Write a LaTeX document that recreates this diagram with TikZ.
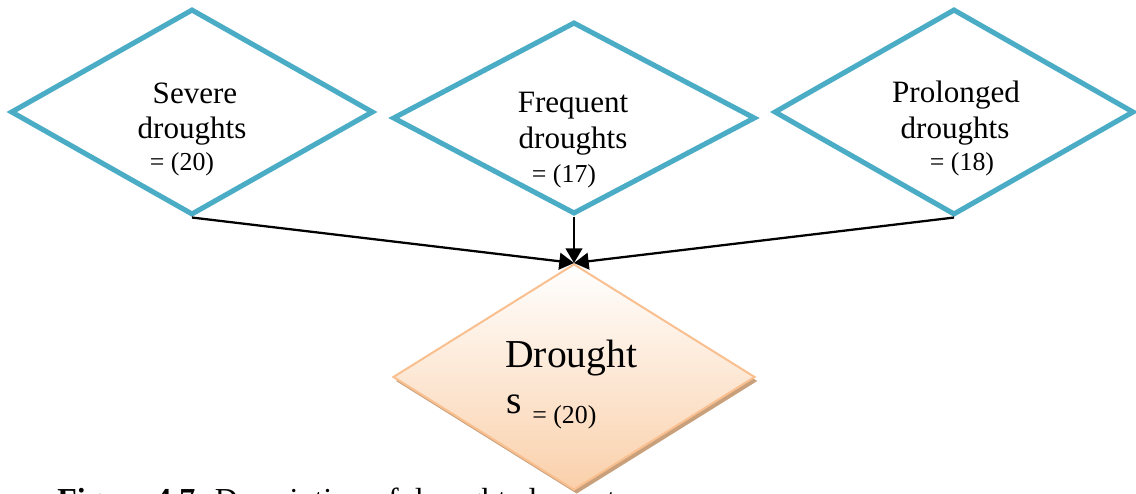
\documentclass[tikz,border=0pt]{standalone}
\usepackage{fontspec}
\setmainfont{Liberation Serif}
\usetikzlibrary{shapes.geometric,arrows.meta,shadows}

\definecolor{causeblue}{HTML}{4BACC6}
\definecolor{effectline}{HTML}{F9BF8F}
\definecolor{effectfill}{HTML}{FAD0AA}
\definecolor{effectshadow}{HTML}{C9A07C}

\begin{document}
\begin{tikzpicture}[x=0.75pt,y=-0.75pt,
  cause/.style={shape=diamond, draw=causeblue, line width=3.8pt, fill=white, inner sep=0pt},
  effect/.style={shape=diamond, draw=effectline, line width=1.5pt, inner sep=0pt,
    top color=white, bottom color=effectfill,
    general shadow={fill=effectshadow, shadow xshift=2pt, shadow yshift=-3pt}},
  lbl/.style={font=\fontsize{23.3}{28}\selectfont, inner sep=0pt, anchor=base},
  countlbl/.style={font=\fontsize{19.4}{23}\selectfont, inner sep=0pt, anchor=base},
  biglbl/.style={font=\fontsize{29.7}{36}\selectfont, inner sep=0pt, anchor=base west},
  link/.style={line width=1.7pt, -{Triangle[length=11pt,width=12.5pt]}}
]
\useasboundingbox (0,0) rectangle (1136,493);

% caption, running on below the lower edge
\begin{scope}
\clip (0,0) rectangle (1136,493);
\node[font=\fontsize{24}{29}\selectfont, inner sep=0pt, anchor=base west] (caption)
  at (57,510) {\textbf{Figure 4.7}: Description of drought element};
\end{scope}

% result diamond
\node[effect, minimum width=271.5pt, minimum height=169.5pt] (drought) at (574,377) {};
\node[biglbl] (dtxt) at (505,367) {Drought};
\node[biglbl] (dtxts) at (506,413) {s};
\node[countlbl, anchor=base west] (dcount) at (532,423) {= (20)};

% contributing diamonds
\node[cause, minimum width=272pt, minimum height=154.5pt] (severe) at (192,112) {};
\node[cause, minimum width=272pt, minimum height=144pt] (frequent) at (574,118) {};
\node[cause, minimum width=270pt, minimum height=154.5pt] (prolonged) at (954,112) {};

\node[lbl] (sv1) at (195,103) {Severe};
\node[lbl] (sv2) at (192,138) {droughts};
\node[countlbl] (sv3) at (182,170) {= (20)};

\node[lbl] (fq1) at (573,112) {Frequent};
\node[lbl] (fq2) at (573,148) {droughts};
\node[countlbl] (fq3) at (564,182) {= (17)};

\node[lbl] (pl1) at (956,102) {Prolonged};
\node[lbl] (pl2) at (955,138) {droughts};
\node[countlbl] (pl3) at (962,170) {= (18)};

% links into the result
\draw[link] (severe.south) -- (drought.north);
\draw[link] (frequent.south) -- (drought.north);
\draw[link] (prolonged.south) -- (drought.north);
\end{tikzpicture}
\end{document}
